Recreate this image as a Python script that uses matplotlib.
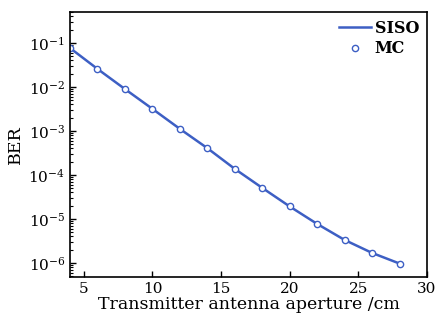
import matplotlib
matplotlib.use('Agg')
import matplotlib.pyplot as plt
import numpy as np

aperture = [4, 6, 8, 10, 12, 14, 16, 18, 20, 22, 24, 26, 28]
ber_siso = [7.6e-2, 2.55e-2, 8.9e-3, 3.16e-3, 1.11e-3, 4.05e-4, 1.37e-4,
            5.07e-5, 1.92e-5, 7.7e-6, 3.33e-6, 1.69e-6, 9.7e-7]
ber_mc = [7.6e-2, 2.55e-2, 8.9e-3, 3.16e-3, 1.11e-3, 4.05e-4, 1.37e-4,
          5.07e-5, 1.92e-5, 7.7e-6, 3.33e-6, 1.69e-6, 9.7e-7]

plt.rcParams['font.family'] = ['DejaVu Serif']
plt.rcParams['mathtext.fontset'] = 'dejavuserif'

fig = plt.figure(figsize=(4.39, 3.2), dpi=100)
ax = fig.add_axes([70/439, 43/320, 357/439, 265/320])

blue = '#3d5fc4'
ax.plot(aperture, ber_siso, color=blue, lw=1.8, label='SISO')
ax.plot(aperture, ber_mc, ls='none', marker='o', ms=4.5, mfc='white',
        mec=blue, mew=1.0, label='MC')

ax.set_yscale('log')
ax.set_xlim(4, 30)
ax.set_ylim(4.8e-7, 0.5)
ax.set_xticks([5, 10, 15, 20, 25, 30])
ax.set_yticks([1e-1, 1e-2, 1e-3, 1e-4, 1e-5, 1e-6])
ax.tick_params(axis='both', which='both', direction='in', top=False, right=False,
               labelsize=11)
ax.tick_params(which='major', length=4, width=1)
ax.tick_params(which='minor', length=2, width=0.8)
for s in ax.spines.values():
    s.set_linewidth(1.2)

ax.set_xlabel('Transmitter antenna aperture /cm', fontsize=12.5, labelpad=0)
ax.set_ylabel('BER', fontsize=12.5, labelpad=3)

ax.legend(loc='upper right', frameon=False, handlelength=2.0,
          handletextpad=0.2, borderaxespad=0.1, labelspacing=0.2,
          prop={'weight': 'bold', 'size': 11.5})

fig.savefig('out.png', dpi=100)
